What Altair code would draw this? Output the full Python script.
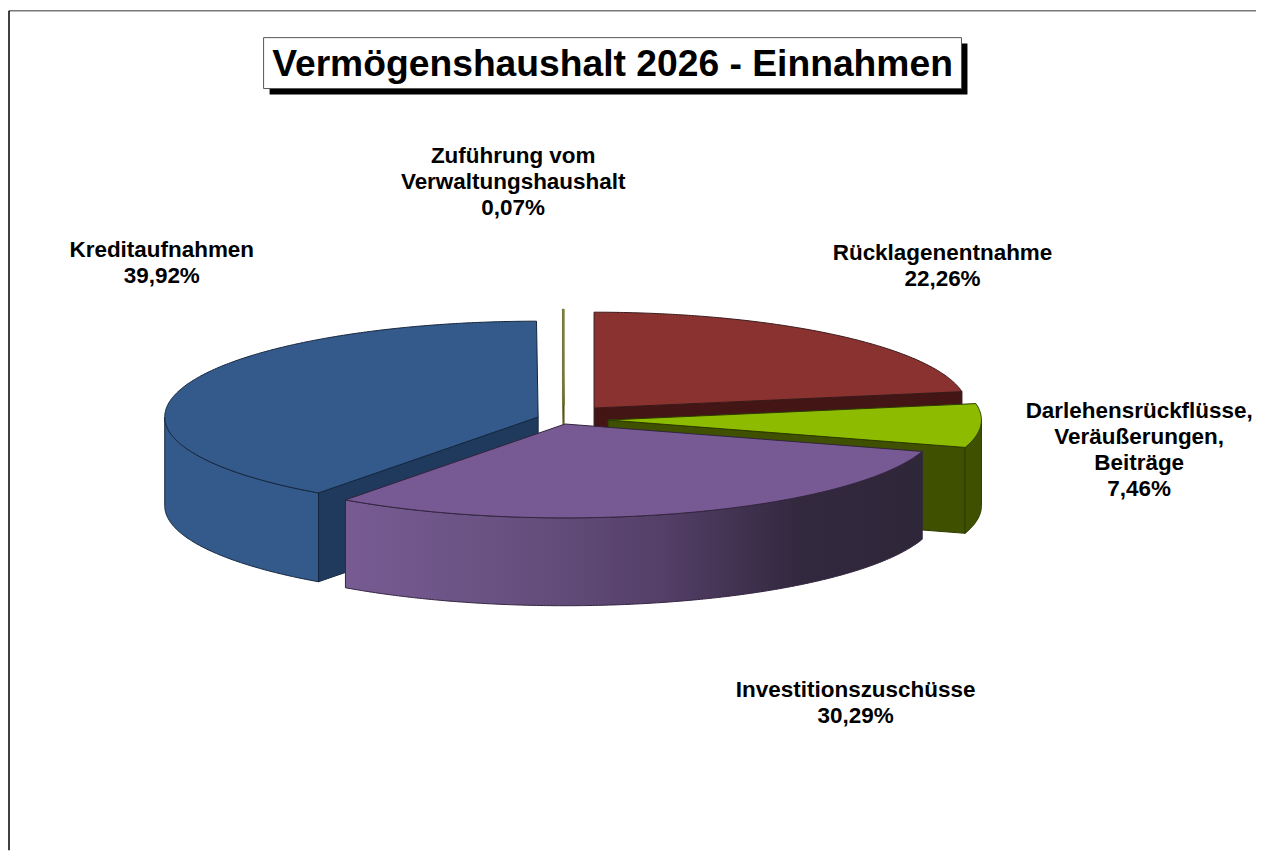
import numpy as np
import pandas as pd
import altair as alt

# ---- values
SLICE_NAMES = ["Rücklagenentnahme", "Darlehensrückflüsse", "Investitionszuschüsse", "Kreditaufnahmen", "Zuführung"]
SLICE_SHARES = [22.26, 7.46, 30.29, 39.92, 0.07]
TITLE = "Vermögenshaushalt 2026 - Einnahmen"
LABEL_LINES = [
    ["Zuführung vom", "Verwaltungshaushalt", "0,07%"],
    ["Kreditaufnahmen", "39,92%"],
    ["Rücklagenentnahme", "22,26%"],
    ["Darlehensrückflüsse,", "Veräußerungen,", "Beiträge", "7,46%"],
    ["Investitionszuschüsse", "30,29%"],
]
LABEL_X = [513, 161, 943, 1140, 856]
LABEL_Y = [156, 250, 253, 411, 690]
LINE_GAP = 26

# ---- page-pixel layout
W, H = 1249, 843
A, B_BACK, B_FRONT = 374, 96, 94
DEPTHS = {
    "Rücklagenentnahme": 88,
    "Darlehensrückflüsse": 86,
    "Investitionszuschüsse": 88,
    "Kreditaufnahmen": 89,
    "Zuführung": 88,
}
CENTERS = {
    "Rücklagenentnahme": (594, 408),
    "Darlehensrückflüsse": (608, 420),
    "Investitionszuschüsse": (565, 424),
    "Kreditaufnahmen": (538, 417),
    "Zuführung": (564, 405),
}
STYLE = {
    "Rücklagenentnahme": dict(top="#8a3230", side="#8a3230", face="#431515", edge="#3a1a1a"),
    "Darlehensrückflüsse": dict(top="#8cbb00", side="#3f5100", face="#3f5100", edge="#2c3a00"),
    "Investitionszuschüsse": dict(top="#775a93", side="#5a4570", face="#3a2d4a", edge="#33243f"),
    "Kreditaufnahmen": dict(top="#335a8a", side="#335a8a", face="#1f3a5c", edge="#14263e"),
    "Zuführung": dict(top="#8a8a3a", side="#8a8a3a", face="#2a2a3a", edge="#77773a"),
}
PURPLE_STOPS = [(0, "#775b93"), (0.3, "#67507f"), (0.55, "#543f68"), (0.78, "#33293f"), (1, "#2e2639")]

xs = alt.Scale(domain=[8, 8 + W], range=[0, W], nice=False, zero=False)
ys = alt.Scale(domain=[8, 8 + H], range=[0, H], nice=False, zero=False)


def arc(c, a0, a1, dy=0):
    t = np.radians(np.linspace(a0, a1, max(4, int(abs(a1 - a0) * 2))))
    return [
        (c[0] + A * np.sin(v), c[1] - (B_BACK if np.cos(v) > 0 else B_FRONT) * np.cos(v) + dy)
        for v in t
    ]


def poly(points, fill, stroke, width=1.0):
    pts = list(points) + [points[0]]
    df = pd.DataFrame({"x": [p[0] for p in pts], "y": [p[1] for p in pts], "i": range(len(pts))})
    return alt.Chart(df).mark_line(fill=fill, stroke=stroke, strokeWidth=width, interpolate="linear").encode(
        x=alt.X("x:Q", scale=xs, axis=None),
        y=alt.Y("y:Q", scale=ys, axis=None),
        order="i:Q",
    )


def face(c, a, depth):
    p = arc(c, a, a + 0.001)[0]
    return [c, p, (p[0], p[1] + depth), (c[0], c[1] + depth)]


layers = []

# frame lines
frame = pd.DataFrame({"x": [8], "x2": [8 + W], "y": [10], "y2": [8 + H]})
layers.append(alt.Chart(frame).mark_rule(color="#777777", strokeWidth=1.5).encode(
    x=alt.X("x:Q", scale=xs, axis=None), x2="x2:Q", y=alt.Y("y:Q", scale=ys, axis=None)))
layers.append(alt.Chart(frame).mark_rule(color="#000000", strokeWidth=1.5).encode(
    x=alt.X("x:Q", scale=xs, axis=None), y=alt.Y("y:Q", scale=ys, axis=None), y2="y2:Q"))

# title box and shadow
shadow = pd.DataFrame({"x": [269], "x2": [968], "y": [43], "y2": [94]})
box = pd.DataFrame({"x": [263], "x2": [962], "y": [37], "y2": [88]})
layers.append(alt.Chart(shadow).mark_rect(color="#000000").encode(
    x=alt.X("x:Q", scale=xs, axis=None), x2="x2:Q", y=alt.Y("y:Q", scale=ys, axis=None), y2="y2:Q"))
layers.append(alt.Chart(box).mark_rect(fill="#ffffff", stroke="#555555", strokeWidth=1).encode(
    x=alt.X("x:Q", scale=xs, axis=None), x2="x2:Q", y=alt.Y("y:Q", scale=ys, axis=None), y2="y2:Q"))
layers.append(alt.Chart(pd.DataFrame({"x": [612.5], "y": [64], "t": [TITLE]})).mark_text(
    font="Liberation Sans", fontWeight="bold", fontSize=37.3, color="#000000", baseline="middle", align="center"
).encode(x=alt.X("x:Q", scale=xs, axis=None), y=alt.Y("y:Q", scale=ys, axis=None), text="t:N"))

# slice angles from the shares
angles = {}
start = 0.0
for name, share in zip(SLICE_NAMES, SLICE_SHARES):
    angles[name] = (start, start + share * 3.6)
    start += share * 3.6


def add_slice(name, side_range=None, face_angle=None, side_fill=None):
    c = CENTERS[name]
    s = STYLE[name]
    d = DEPTHS[name]
    a0, a1 = angles[name]
    if face_angle is not None:
        layers.append(poly(face(c, face_angle, d), s["face"], s["edge"]))
    if side_range is not None:
        top_edge = arc(c, *side_range)
        bottom = arc(c, side_range[1], side_range[0], d)
        layers.append(poly(top_edge + bottom, side_fill or s["side"], s["edge"]))
    layers.append(poly([c] + arc(c, a0, a1), s["top"], s["edge"]))


add_slice("Kreditaufnahmen", side_range=(angles["Kreditaufnahmen"][0], 270), face_angle=angles["Kreditaufnahmen"][0])
add_slice("Zuführung", face_angle=angles["Zuführung"][0])
add_slice("Rücklagenentnahme", face_angle=angles["Rücklagenentnahme"][1])
add_slice("Darlehensrückflüsse", side_range=(90, angles["Darlehensrückflüsse"][1]), face_angle=angles["Darlehensrückflüsse"][1])
gradient = alt.Gradient(
    gradient="linear",
    stops=[alt.GradientStop(offset=o, color=col) for o, col in PURPLE_STOPS],
    x1=0, x2=1, y1=0, y2=0,
)
add_slice("Investitionszuschüsse", side_range=angles["Investitionszuschüsse"], side_fill=gradient)

# labels
rows = []
for lines, x, y in zip(LABEL_LINES, LABEL_X, LABEL_Y):
    for k, line in enumerate(lines):
        rows.append({"x": x, "y": y + k * LINE_GAP, "t": line})
layers.append(alt.Chart(pd.DataFrame(rows)).mark_text(
    font="Liberation Sans", fontWeight="bold", fontSize=22.5, color="#000000", baseline="middle", align="center"
).encode(x=alt.X("x:Q", scale=xs, axis=None), y=alt.Y("y:Q", scale=ys, axis=None), text="t:N"))

chart = alt.layer(*layers).properties(
    width=W, height=H, padding=0, background="#ffffff"
).configure_view(stroke=None)

chart.save("out.html", embed_options={"renderer": "svg", "actions": False})
